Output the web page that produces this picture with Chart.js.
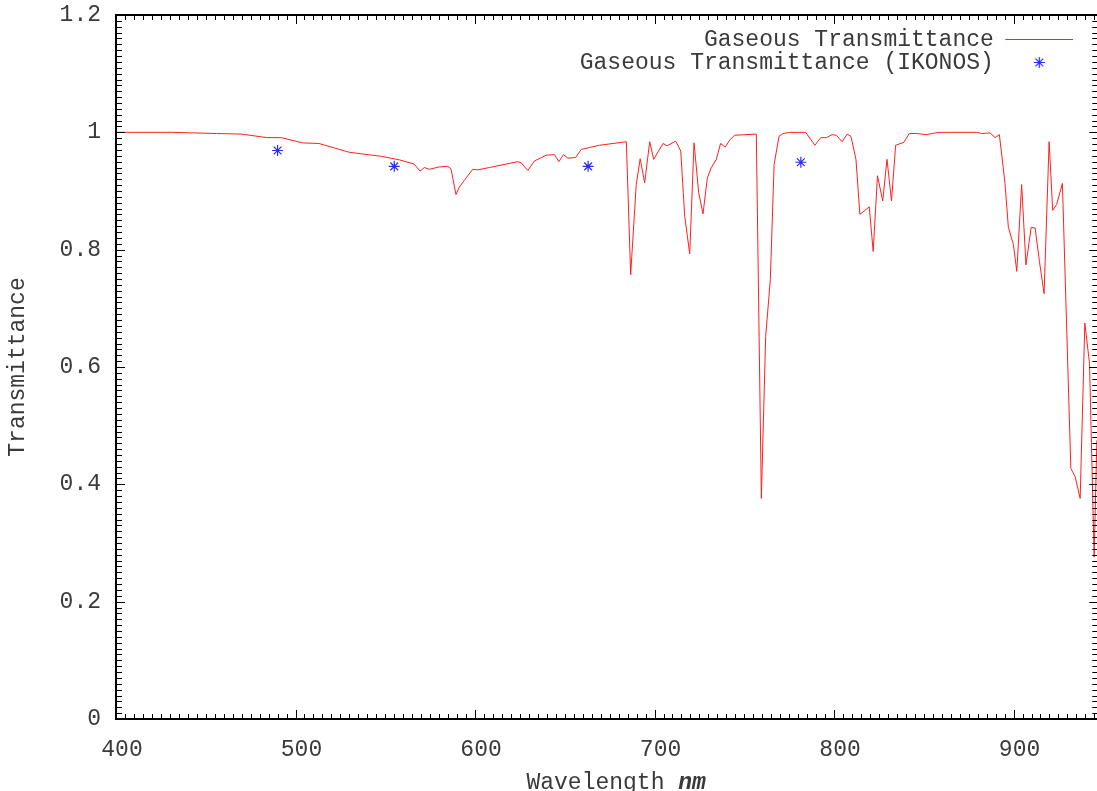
<!DOCTYPE html>
<html>
<head>
<meta charset="utf-8">
<script src="https://cdn.jsdelivr.net/npm/chart.js@4/dist/chart.umd.min.js"></script>
<style>
  html, body { margin: 0; padding: 0; background: #ffffff; overflow: hidden; }
  #wrap { width: 1105px; height: 791px; }
</style>
</head>
<body>
<div id="wrap"><canvas id="c" width="1105" height="791"></canvas></div>
<script>
// ---- data ----
const wavelengths = [
  400, 431, 456, 470, 484, 492, 504, 513, 530, 548,
  558, 566, 569.4, 571.8, 574.6, 580, 584.8, 586.6, 589.4, 591.3,
  594, 598.7, 601.5, 608, 623.8, 625.7, 629.4, 633, 639.6, 644.3,
  646.7, 649.3, 651.7, 656, 659.2, 669.4, 684.3, 686.7, 689.8, 692,
  694.5, 697.3, 699.5, 704.7, 707, 711.8, 714.6, 716.8, 719.6, 722,
  724.6, 727, 729.4, 731.6, 734.4, 736.8, 739.4, 742.2, 744.6, 756.7,
  759.5, 761.9, 764.5, 766.6, 769.3, 771.6, 775.3, 784.2, 789.3, 792.6,
  795.8, 798.9, 801.3, 804.5, 807.3, 809.4, 812.2, 814.4, 819.6, 821.8,
  824.2, 827.1, 829.5, 832, 834.3, 838.9, 841.9, 846, 851.5, 854.3,
  859, 879.4, 882.2, 886.9, 889.7, 892.1, 895.2, 897.1, 899.9, 901.8,
  904.5, 906.9, 909.8, 912, 914.4, 917, 919.8, 921.8, 924, 927.2,
  931.9, 934.3, 937.1, 939.7, 942.3, 944.9, 946.4
];
const transmittance = [
  1.000, 1.000, 0.998, 0.997, 0.991, 0.991, 0.982, 0.981, 0.966, 0.959,
  0.953, 0.946, 0.934, 0.940, 0.937, 0.941, 0.942, 0.938, 0.894, 0.907,
  0.918, 0.937, 0.936, 0.940, 0.950, 0.948, 0.935, 0.951, 0.961, 0.962,
  0.950, 0.962, 0.956, 0.957, 0.971, 0.978, 0.984, 0.757, 0.911, 0.955,
  0.914, 0.984, 0.954, 0.981, 0.977, 0.985, 0.968, 0.857, 0.793, 0.982,
  0.897, 0.861, 0.922, 0.940, 0.954, 0.981, 0.975, 0.988, 0.995, 0.997,
  0.376, 0.652, 0.749, 0.945, 0.993, 0.998, 1.000, 1.000, 0.978, 0.991,
  0.991, 0.996, 0.995, 0.984, 0.997, 0.993, 0.954, 0.860, 0.873, 0.797,
  0.926, 0.883, 0.954, 0.883, 0.978, 0.983, 0.998, 0.998, 0.996, 0.998,
  1.000, 1.000, 0.998, 0.999, 0.991, 0.996, 0.914, 0.838, 0.809, 0.763,
  0.911, 0.774, 0.838, 0.837, 0.780, 0.725, 0.984, 0.867, 0.877, 0.913,
  0.427, 0.413, 0.376, 0.675, 0.606, 0.276, 0.475
];
const ikonosWavelengths = [490, 555, 663, 781.5];
const ikonosTransmittance = [0.969, 0.942, 0.942, 0.949];
const seriesLabels = ['Gaseous Transmittance', 'Gaseous Transmittance (IKONOS)'];
const xTitleParts = ['Wavelength ', 'nm'];
const yTitle = 'Transmittance';
const xRange = [400, 947.2];
const yRange = [0, 1.2];
const xMajor = 100, xMinor = 5, yMajor = 0.2, yMinor = 0.01;

// ---- styling ----
const FONT = "'Liberation Mono', 'DejaVu Sans Mono', monospace";
const FS = 23;
const TEXT = '#3a3a3a';
const LINE_COLOR = '#ff2020';
const STAR_COLOR = '#2a2aff';

const lineData = wavelengths.map((w, i) => ({ x: w, y: transmittance[i] }));
const starData = ikonosWavelengths.map((w, i) => ({ x: w, y: ikonosTransmittance[i] }));

// small star symbol used for the legend entry
function makeStarIcon(r, color) {
  const c = document.createElement('canvas');
  const s = Math.ceil(r * 2 + 2);
  c.width = s; c.height = s;
  const g = c.getContext('2d');
  g.strokeStyle = color; g.lineWidth = 1.2;
  const m = s / 2, d = r * Math.SQRT1_2;
  g.beginPath();
  g.moveTo(m - r, m); g.lineTo(m + r, m);
  g.moveTo(m, m - r); g.lineTo(m, m + r);
  g.moveTo(m - d, m - d); g.lineTo(m + d, m + d);
  g.moveTo(m - d, m + d); g.lineTo(m + d, m - d);
  g.stroke();
  return c;
}
const starIcon = makeStarIcon(5.5, STAR_COLOR);

const frameTicks = {
  id: 'frameTicks',
  afterDatasetsDraw(chart) {
    const { ctx, chartArea: a, scales: { x, y } } = chart;
    ctx.save();
    ctx.strokeStyle = '#000';
    ctx.lineWidth = 1;
    ctx.beginPath();
    const nx = Math.round((x.max - x.min) / xMinor);
    for (let i = 0; i <= nx; i++) {
      const v = x.min + i * xMinor;
      if (v > x.max) break;
      const px = Math.round(x.getPixelForValue(v)) + 0.5;
      const major = (i % Math.round(xMajor / xMinor)) === 0;
      const len = major ? 9 : 5;
      ctx.moveTo(px, a.bottom); ctx.lineTo(px, a.bottom - len);
      ctx.moveTo(px, a.top); ctx.lineTo(px, a.top + len);
    }
    const ny = Math.round((y.max - y.min) / yMinor);
    for (let i = 0; i <= ny; i++) {
      const v = y.min + i * yMinor;
      const py = Math.round(y.getPixelForValue(v)) + 0.5;
      const major = (i % Math.round(yMajor / yMinor)) === 0;
      const len = major ? 9 : 6;
      ctx.moveTo(a.left, py); ctx.lineTo(a.left + len, py);
      ctx.moveTo(a.right, py); ctx.lineTo(a.right - len, py);
    }
    ctx.stroke();
    ctx.lineWidth = 2;
    ctx.strokeRect(a.left, a.top, a.right - a.left, a.bottom - a.top);
    ctx.restore();
  },
  afterDraw(chart) {
    // x axis title with italic unit
    const { ctx, chartArea: a } = chart;
    ctx.save();
    ctx.fillStyle = TEXT;
    ctx.textBaseline = 'alphabetic';
    ctx.textAlign = 'left';
    const f1 = `${FS}px ${FONT}`;
    const f2 = `italic bold ${FS}px ${FONT}`;
    ctx.font = f1; const w1 = ctx.measureText(xTitleParts[0]).width;
    ctx.font = f2; const w2 = ctx.measureText(xTitleParts[1]).width;
    const cx = (a.left + a.right) / 2 + 9;
    const x0 = cx - (w1 + w2) / 2;
    const base = a.bottom + 70;
    ctx.font = f1; ctx.fillText(xTitleParts[0], x0, base);
    ctx.font = f2; ctx.fillText(xTitleParts[1], x0 + w1, base);
    ctx.restore();
  },
  beforeDraw(chart) {
    // place legend in the upper-right corner inside the plot frame
    const lg = chart.legend;
    if (!lg) return;
    const a = chart.chartArea;
    const w = lg.width, h = lg.height;
    lg.left = a.right - 25 - w;
    lg.right = lg.left + w;
    lg.top = a.top + 13;
    lg.bottom = lg.top + h;
  }
};

new Chart(document.getElementById('c'), {
  type: 'line',
  data: {
    datasets: [
      {
        label: seriesLabels[0],
        data: lineData,
        borderColor: LINE_COLOR,
        backgroundColor: LINE_COLOR,
        borderWidth: 1,
        pointRadius: 0,
        pointStyle: 'line',
        tension: 0,
        fill: false
      },
      {
        label: seriesLabels[1],
        data: starData,
        showLine: false,
        borderColor: STAR_COLOR,
        backgroundColor: STAR_COLOR,
        borderWidth: 1.2,
        pointRadius: 5.5,
        pointStyle: 'star'
      }
    ]
  },
  options: {
    responsive: false,
    animation: false,
    devicePixelRatio: 1,
    layout: { padding: { top: 15, right: 2, left: 0, bottom: 0 } },
    plugins: {
      tooltip: { enabled: false },
      legend: {
        position: 'chartArea',
        align: 'start',
        rtl: true,
        padding: 0,
        labels: {
          usePointStyle: true,
          pointStyleWidth: 68,
          boxHeight: 8,
          padding: 0,
          color: TEXT,
          font: { family: FONT, size: FS },
          generateLabels(chart) {
            const items = Chart.defaults.plugins.legend.labels.generateLabels(chart);
            if (items[1]) items[1].pointStyle = starIcon;
            return items;
          }
        }
      }
    },
    scales: {
      x: {
        type: 'linear',
        min: xRange[0],
        max: xRange[1],
        grid: { display: false },
        border: { display: false },
        ticks: {
          stepSize: xMajor,
          includeBounds: false,
          padding: 9,
          labelOffset: 6,
          maxRotation: 0,
          color: TEXT,
          font: { family: FONT, size: FS }
        },
        afterFit(scale) { scale.height = 72; scale.paddingLeft = 0; scale.paddingRight = 0; }
      },
      y: {
        type: 'linear',
        min: yRange[0],
        max: yRange[1],
        grid: { display: false },
        border: { display: false },
        title: {
          display: true,
          text: yTitle,
          color: TEXT,
          font: { family: FONT, size: FS },
          padding: { top: 4, bottom: 4 }
        },
        ticks: {
          stepSize: yMajor,
          padding: 7,
          color: TEXT,
          font: { family: FONT, size: FS },
          callback: (v) => String(Math.round(v * 10) / 10)
        },
        afterFit(scale) { scale.width = 116; scale.paddingTop = 0; scale.paddingBottom = 0; }
      }
    }
  },
  plugins: [frameTicks]
});
</script>
</body>
</html>
